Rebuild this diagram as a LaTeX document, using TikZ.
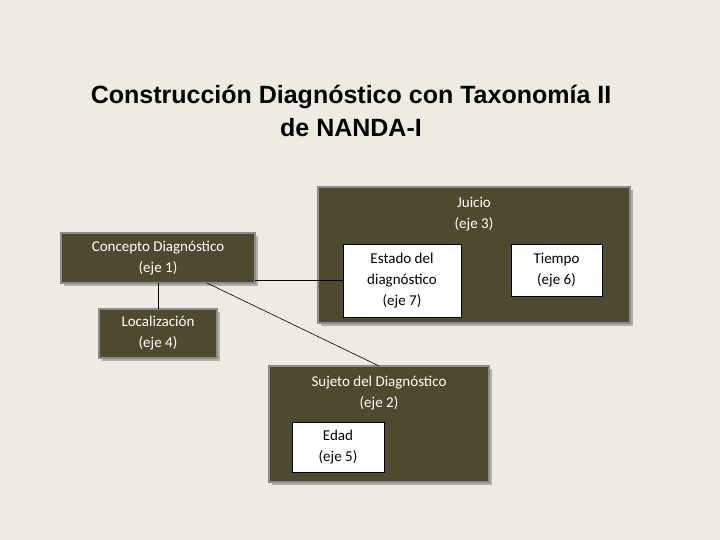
\documentclass[tikz,border=0pt]{standalone}
\usepackage{fontspec}
\setmainfont{Carlito}
\newfontfamily\titlefont{Liberation Sans}
\definecolor{bg}{HTML}{EEECE2}
\definecolor{olive}{HTML}{4F4A2E}
\definecolor{edge}{HTML}{8C8C8C}
\tikzset{
 darkbox/.style={draw=edge,line width=1.2pt,fill=olive},
 whitebox/.style={draw=black,line width=0.6pt,fill=white},
 wtxt/.style={text=white,align=center,font=\fontsize{15}{21}\selectfont},
 btxt/.style={text=black,align=center,font=\fontsize{15}{21}\selectfont},
 conn/.style={draw=black,line width=0.6pt}
}
\begin{document}
\begin{tikzpicture}[x=1pt,y=-1pt]
\fill[bg] (0,0) rectangle (720,540);
\useasboundingbox (0,0) rectangle (720,540);
\node[font=\titlefont\bfseries\fontsize{25}{33}\selectfont,align=center] (title) at (351,111) {Construcción Diagnóstico con Taxonomía II\\de NANDA-I};
% shadows
\foreach \a/\b/\c/\d in {318/187/630/323, 61/233/255/283, 99/309/217/358, 269/366/489/482}
  \fill[black,opacity=0.25] (\a+3,\b+3) rectangle (\c+3,\d+3);
\draw[darkbox] (318,187) rectangle (630,323) coordinate (jBR);
\node[wtxt] (juicio) at (474,214) {Juicio\\(eje 3)};
\draw[darkbox] (61,233) rectangle (255,283);
\node[wtxt,minimum width=194pt,minimum height=50pt] (concepto) at (158,258) {Concepto Diagnóstico\\(eje 1)};
\draw[darkbox] (99,309) rectangle (217,358);
\node[wtxt,minimum width=118pt,minimum height=49pt] (local) at (158,333.5) {Localización\\(eje 4)};
\draw[darkbox] (269,366) rectangle (489,482);
\node[wtxt] (sujeto) at (379,393) {Sujeto del Diagnóstico\\(eje 2)};
\node[whitebox,btxt,minimum width=118pt,minimum height=73pt,inner sep=0pt] (estado) at (402,280.5) {Estado del\\diagnóstico\\(eje 7)};
\node[whitebox,btxt,minimum width=91pt,minimum height=52pt,inner sep=0pt] (tiempo) at (556.5,270) {Tiempo\\(eje 6)};
\node[whitebox,btxt,minimum width=92pt,minimum height=50pt,inner sep=0pt] (edad) at (338,447) {Edad\\(eje 5)};
\coordinate (sujTop) at (379,366);
\coordinate (cA) at (207,283);
\draw[conn] (concepto.east |- estado.west) -- (estado.west);
\draw[conn] (concepto.south) -- (local.north);
\draw[conn] (cA) -- (sujTop);
\end{tikzpicture}
\end{document}
